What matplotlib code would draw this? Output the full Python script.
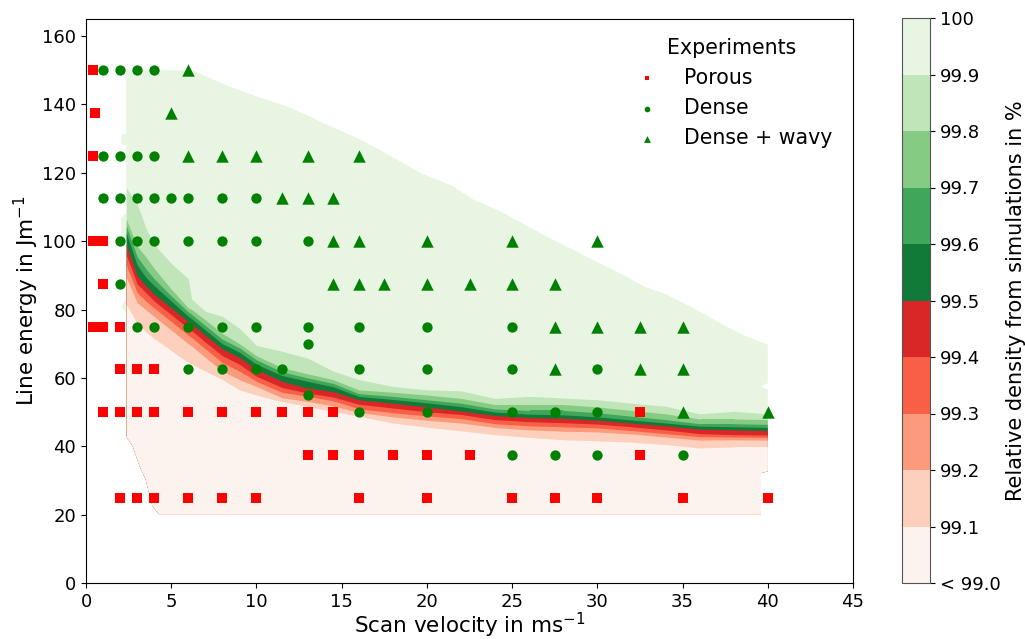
import numpy as np
import matplotlib
matplotlib.use("Agg")
import matplotlib.pyplot as plt
from matplotlib.patches import Polygon
from matplotlib.colors import ListedColormap, BoundaryNorm
from matplotlib.cm import ScalarMappable

# ---------------- experiment points ----------------
porous_v = [0.4, 0.5, 0.4, 0.4, 1, 1, 0.4, 1, 2, 2, 3, 4,
            1, 2, 3, 4, 6, 8, 10, 11.5, 13, 14.5, 32.5,
            13, 14.5, 16, 18, 20, 22.5, 32.5,
            2, 3, 4, 6, 8, 10, 16, 20, 25, 27.5, 30, 35, 40]
porous_e = [150, 137.5, 125, 100, 100, 87.5, 75, 75, 75, 62.5, 62.5, 62.5,
            50, 50, 50, 50, 50, 50, 50, 50, 50, 50, 50,
            37.5, 37.5, 37.5, 37.5, 37.5, 37.5, 37.5,
            25, 25, 25, 25, 25, 25, 25, 25, 25, 25, 25, 25, 25]

dense_v = [1, 2, 3, 4,
           1, 2, 3, 4,
           1, 2, 3, 4, 5, 6, 8, 10,
           2, 3, 4, 6, 8, 10, 13,
           2,
           3, 4, 6, 8, 10, 13, 16, 20, 25,
           13,
           6, 8, 10, 11.5, 16, 20, 25, 30,
           13,
           16, 20, 25, 27.5, 30,
           25, 27.5, 30, 35]
dense_e = [150, 150, 150, 150,
           125, 125, 125, 125,
           112.5, 112.5, 112.5, 112.5, 112.5, 112.5, 112.5, 112.5,
           100, 100, 100, 100, 100, 100, 100,
           87.5,
           75, 75, 75, 75, 75, 75, 75, 75, 75,
           70,
           62.5, 62.5, 62.5, 62.5, 62.5, 62.5, 62.5, 62.5,
           55,
           50, 50, 50, 50, 50,
           37.5, 37.5, 37.5, 37.5]

wavy_v = [6, 5, 6, 8, 10, 13, 16, 11.5, 13, 14.5,
          14.5, 16, 20, 25, 30,
          14.5, 16, 17.5, 20, 22.5, 25, 27.5,
          27.5, 30, 32.5, 35,
          27.5, 32.5, 35,
          35, 40]
wavy_e = [150, 137.5, 125, 125, 125, 125, 125, 112.5, 112.5, 112.5,
          100, 100, 100, 100, 100,
          87.5, 87.5, 87.5, 87.5, 87.5, 87.5, 87.5,
          75, 75, 75, 75,
          62.5, 62.5, 62.5,
          50, 50]

# ---------------- simulation density contours ----------------
levels = [99.0, 99.1, 99.2, 99.3, 99.4, 99.5, 99.6, 99.7, 99.8, 99.9, 100.0]
level_labels = ["< 99.0", "99.1", "99.2", "99.3", "99.4", "99.5",
                "99.6", "99.7", "99.8", "99.9", "100"]
band_colors = ["#fdf3ee", "#fcd0bd", "#fc9a7c", "#f95f47", "#d92626",
               "#117a38", "#40a65a", "#86cb84", "#bfe5b8", "#e7f5e2"]

sim_v = [2.36, 3.0, 3.5, 4.0, 5.0, 6.0, 6.2, 7.0, 8.0, 9.0, 10.0, 11.5, 13.0,
         14.5, 16.0, 18.0, 20.0, 22.0, 24.0, 26.0, 28.0, 30.0, 32.0, 34.0,
         36.0, 38.0, 40.0]
# line energy where the relative density crosses each level
e_991 = [81.5, 76, 73.5, 71.5, 68, 64.5, 64, 62, 59.5, 56.5, 55, 53, 51.7,
         50.2, 48.8, 46.8, 45.6, 44.5, 43.4, 42.6, 41.9, 41.6, 41.2, 40.5,
         39.5, 39.8, 39.8]
e_992 = [89.5, 82, 80, 78, 74, 70, 69.3, 66, 62, 59.5, 57.5, 54.2, 53.1,
         51.8, 49.9, 48.6, 47.6, 46.8, 45.5, 44.8, 44.4, 44.2, 43.6, 42.7,
         41.8, 41.9, 41.8]
e_993 = [93, 85, 82.5, 80.5, 76.5, 72.5, 71.8, 68.5, 64.5, 62, 59, 55.8, 54.6,
         53.3, 51, 49.8, 48.9, 48.1, 46.6, 46.0, 45.7, 45.4, 44.6, 43.7,
         42.8, 42.7, 42.6]
e_994 = [96, 87.5, 85, 82.5, 78.5, 74.5, 73.8, 70.5, 66.5, 64, 60.5, 57.2,
         55.6, 54.4, 52.3, 51.2, 50.1, 49.3, 47.8, 47.2, 46.9, 46.5, 45.7,
         44.8, 43.7, 43.4, 43.3]
e_995 = [99, 90, 87, 84.5, 80.5, 76.5, 75.8, 72.5, 68.5, 66, 62.5, 59, 57,
         56, 53.6, 52.6, 51.5, 50.3, 49, 48.4, 48.2, 47.6, 46.8, 46.0, 45.0,
         44.8, 44.6]
e_996 = [102.5, 93, 89.5, 87, 82.5, 78, 77.3, 74, 70, 67.5, 64, 60.7, 59,
         57.4, 54.6, 53.7, 52.7, 51.6, 50, 49.4, 49.2, 48.6, 47.7, 46.8, 45.9,
         45.7, 45.5]
e_997 = [104.5, 95.5, 92, 89, 84, 79.3, 78.6, 75.3, 71.3, 68.8, 65.3, 61.8,
         60, 58.4, 55.4, 54.6, 53.6, 52.6, 50.9, 50.5, 50.5, 49.8, 48.8, 47.8,
         46.6, 46.6, 46.4]
e_998 = [106.5, 98.5, 95.5, 92, 86, 80.5, 80, 77, 73, 70, 66.5, 63, 61.2,
         59.5, 56.5, 55.8, 55, 54, 52.2, 52.2, 52.2, 51.5, 50.5, 49.5, 48.0,
         48.0, 47.8]
e_999 = [115.6, 111, 104, 99, 93.5, 89, 83, 79.5, 78, 74.5, 69.5, 67.8, 65.8,
         62, 59.5, 57.5, 56.5, 56.2, 54, 54.6, 54.1, 53.6, 52.6, 51.7, 49.5,
         50.2, 49.5]

# outline of the simulated domain
domain_v = [2.36, 6.27, 7.44, 8.6, 10.2, 11.75, 12.9, 14.1, 15.9, 17.2, 19.6,
            21.5, 22.7, 24.07, 25.4, 27.0, 28.6, 29.7, 31.3, 32.7, 34.05,
            35.6, 37.0, 38.5, 40.0, 40.0, 39.6, 40.0, 40.0, 39.6, 39.6,
            4.3, 3.9, 3.5, 3.14, 2.75, 2.36, 2.36, 2.07, 2.36, 2.36, 2.07,
            2.07, 2.36, 2.36, 2.07, 2.07, 2.36]
domain_e = [150, 150, 147.3, 144.9, 142, 139.5, 137, 134.1, 130.2, 126.8, 120,
            116.1, 112.2, 109.3, 105.8, 101.4, 97.5, 94.6, 90.7, 86.8, 84.4,
            80.5, 76.6, 72.7, 69.7, 58.5, 57.5, 56.5, 32.7, 32.2, 20,
            20, 22.6, 30.4, 34.3, 40, 43, 79, 81, 83, 100, 100,
            107, 108, 128, 128.5, 131, 131.5]

# ---------------- figure ----------------
plt.rcParams["font.family"] = ["DejaVu Sans"]
plt.rcParams["mathtext.default"] = "regular"

fig = plt.figure(figsize=(10.25, 6.39), dpi=100)
ax = fig.add_axes([86 / 1025, 1 - 583 / 639, 767 / 1025, 564 / 639])

outline = Polygon(np.column_stack([domain_v, domain_e]), closed=True,
                  transform=ax.transData, facecolor="none", edgecolor="none")
ax.add_patch(outline)

boundaries = [e_991, e_992, e_993, e_994, e_995, e_996, e_997, e_998, e_999]
# top band fills the whole domain, then lower bands painted over
base = ax.fill_between([min(domain_v), max(domain_v)], 0, 170,
                       color=band_colors[-1], linewidth=0, zorder=1)
base.set_clip_path(outline)
for i in range(len(boundaries) - 1, -1, -1):
    fb = ax.fill_between(sim_v, 0, boundaries[i], color=band_colors[i],
                         linewidth=0, zorder=1)
    fb.set_clip_path(outline)

ax.scatter(porous_v, porous_e, marker="s", s=42, color="#ff0000",
           linewidths=0, zorder=3, label="Porous")
ax.scatter(dense_v, dense_e, marker="o", s=55, color="#008000",
           linewidths=0, zorder=3, label="Dense")
ax.scatter(wavy_v, wavy_e, marker="^", s=80, color="#008000",
           linewidths=0, zorder=3, label="Dense + wavy")

ax.set_xlim(0, 45)
ax.set_ylim(0, 165)
ax.set_xticks(range(0, 46, 5))
ax.set_yticks(range(0, 161, 20))
ax.tick_params(labelsize=13)
ax.set_xlabel("Scan velocity in ms$^{-1}$", fontsize=15.5, labelpad=0)
ax.set_ylabel("Line energy in Jm$^{-1}$", fontsize=15.5, labelpad=1)

leg = ax.legend(loc="upper left", bbox_to_anchor=(0.686, 1.0), frameon=False,
                title="Experiments", fontsize=14.8, title_fontsize=14.8,
                markerscale=0.55, handletextpad=1.0, labelspacing=0.5,
                handlelength=1.6)

# colorbar
cmap = ListedColormap(band_colors)
norm = BoundaryNorm(levels, cmap.N)
cax = fig.add_axes([902 / 1025, 1 - 583 / 639, 28 / 1025, 565 / 639])
sm = ScalarMappable(norm=norm, cmap=cmap)
cb = fig.colorbar(sm, cax=cax, ticks=levels, spacing="proportional")
cb.ax.set_yticklabels(level_labels)
cb.ax.tick_params(labelsize=13)
cb.set_label("Relative density from simulations in %", fontsize=15, labelpad=4)
cb.outline.set_edgecolor("#555555")

fig.savefig("out.png", dpi=100)
